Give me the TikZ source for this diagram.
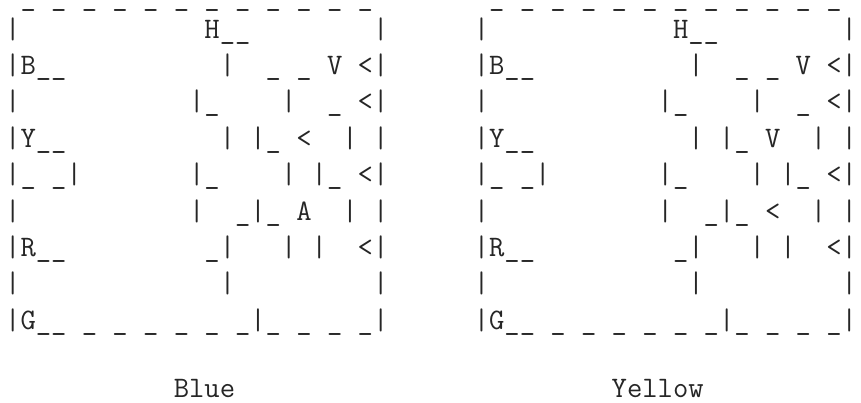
\documentclass[tikz,border=0pt]{standalone}
\usepackage{tikz}

\begin{document}
\begin{tikzpicture}[
        x=0.5pt, y=-0.5pt,
        asciirow/.style={anchor=base west, inner sep=0pt, outer sep=0pt, text=black!85, font=\ttfamily\fontsize{14.88pt}{18pt}\selectfont},
        toprow/.style={asciirow, text height=1pt},
        panellabel/.style={asciirow}
    ]
        \useasboundingbox (0,0) rectangle (861,402);

        % Blue panel
        \node[toprow] (blue0) at (5.2,5.0) {~\_~\_~\_~\_~\_~\_~\_~\_~\_~\_~\_~\_};
        \node[asciirow] (blue1) at (5.2,38.0) {|~~~~~~~~~~~~H\_\_~~~~~~~~|};
        \node[asciirow] (blue2) at (5.2,74.4) {|B\_\_~~~~~~~~~~|~~\_~\_~V~<|};
        \node[asciirow] (blue3) at (5.2,110.8) {|~~~~~~~~~~~|\_~~~~|~~\_~<|};
        \node[asciirow] (blue4) at (5.2,147.2) {|Y\_\_~~~~~~~~~~|~|\_~<~~|~|};
        \node[asciirow] (blue5) at (5.2,183.6) {|\_~\_|~~~~~~~|\_~~~~|~|\_~<|};
        \node[asciirow] (blue6) at (5.2,220.0) {|~~~~~~~~~~~|~~\_|\_~A~~|~|};
        \node[asciirow] (blue7) at (5.2,256.4) {|R\_\_~~~~~~~~~\_|~~~|~|~~<|};
        \node[asciirow] (blue8) at (5.2,292.8) {|~~~~~~~~~~~~~|~~~~~~~~~|};
        \node[asciirow] (blue9) at (5.2,329.2) {|G\_\_~\_~\_~\_~\_~\_~\_|\_~\_~\_~\_|};
        \node[panellabel] (bluename) at (5.2,397) {~~~~~~~~~~~Blue};

        % Yellow panel
        \node[toprow] (yel0) at (473.8,5.0) {~\_~\_~\_~\_~\_~\_~\_~\_~\_~\_~\_~\_};
        \node[asciirow] (yel1) at (473.8,38.0) {|~~~~~~~~~~~~H\_\_~~~~~~~~|};
        \node[asciirow] (yel2) at (473.8,74.4) {|B\_\_~~~~~~~~~~|~~\_~\_~V~<|};
        \node[asciirow] (yel3) at (473.8,110.8) {|~~~~~~~~~~~|\_~~~~|~~\_~<|};
        \node[asciirow] (yel4) at (473.8,147.2) {|Y\_\_~~~~~~~~~~|~|\_~V~~|~|};
        \node[asciirow] (yel5) at (473.8,183.6) {|\_~\_|~~~~~~~|\_~~~~|~|\_~<|};
        \node[asciirow] (yel6) at (473.8,220.0) {|~~~~~~~~~~~|~~\_|\_~<~~|~|};
        \node[asciirow] (yel7) at (473.8,256.4) {|R\_\_~~~~~~~~~\_|~~~|~|~~<|};
        \node[asciirow] (yel8) at (473.8,292.8) {|~~~~~~~~~~~~~|~~~~~~~~~|};
        \node[asciirow] (yel9) at (473.8,329.2) {|G\_\_~\_~\_~\_~\_~\_~\_|\_~\_~\_~\_|};
        \node[panellabel] (yelname) at (473.8,397) {~~~~~~~~~Yellow};

    \end{tikzpicture}
\end{document}
